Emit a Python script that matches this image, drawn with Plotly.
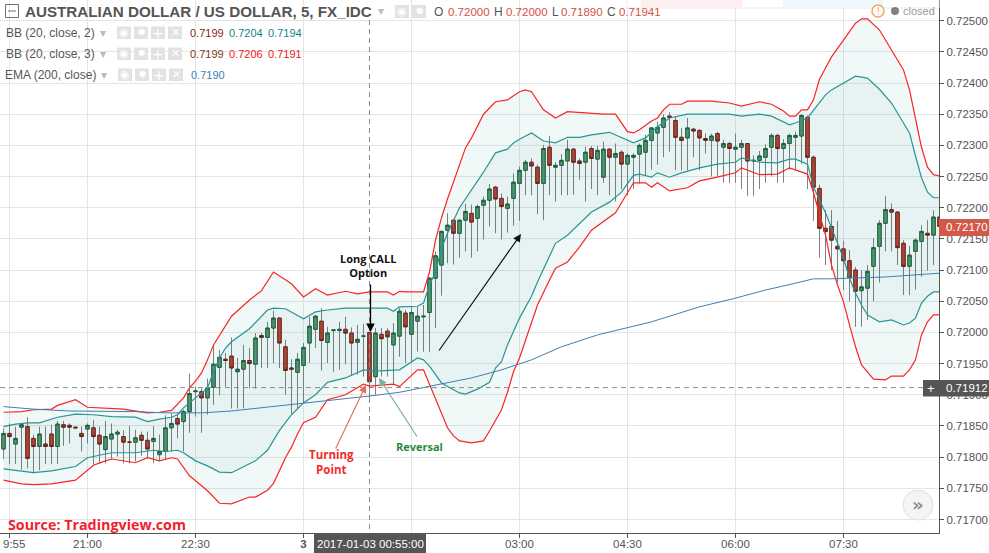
import pandas as pd
import numpy as np
import plotly.graph_objects as go

# Candle data, in units of 0.00001
opens = [71813,71838,71821,71848,71849,71830,71817,71821,71837,71817,
71852,71851,71848,71838,71845,71847,71835,71812,71829,71837,
71833,71824,71824,71835,71827,71825,71804,71809,71847,71862,
71857,71873,71905,71905,71895,71912,71944,71957,71962,71937,
71941,71955,71949,71995,71992,72007,72023,71977,71943,71936,
71947,71983,72005,72018,71984,72003,72003,72005,71999,71984,
71994,72000,71929,71997,72002,71980,71994,72031,71997,72018,
72025,72032,72087,72108,72164,72180,72159,72180,72191,72183,
72204,72212,72233,72215,72199,72215,72239,72260,72273,72265,
72239,72297,72265,72268,72275,72294,72275,72273,72295,72278,
72249,72294,72281,72289,72270,72281,72286,72289,72308,72320,
72329,72347,72340,72313,72312,72326,72324,72311,72308,72319,
72297,72303,72294,72297,72303,72275,72276,72281,72297,72316,
72295,72303,72313,72315,72345,72281,72231,72167,72170,72138,
72134,72115,72100,72067,72071,72106,72138,72175,72197,72193,
72143,72106,72130,72146,72159,72156,72185]
highs = [71846,71854,71849,71854,71864,71836,71849,71849,71852,71858,
71858,71854,71849,71849,71854,71860,71849,71858,71854,71844,
71843,71850,71844,71841,71841,71850,71836,71867,71870,71870,
71876,71934,71913,71910,71926,71980,71972,71967,71992,71959,
71980,71975,71999,71999,72017,72035,72024,71988,71957,71967,
71983,72025,72028,72039,72009,72005,72017,72025,72008,72012,
72014,72000,72007,72007,72007,72015,72039,72036,72041,72041,
72044,72089,72130,72164,72191,72182,72181,72206,72205,72205,
72218,72238,72235,72223,72218,72255,72266,72277,72279,72269,
72301,72315,72273,72286,72309,72296,72279,72298,72299,72299,
72306,72295,72303,72292,72287,72287,72303,72317,72329,72338,
72350,72353,72346,72328,72344,72328,72326,72319,72319,72322,
72309,72306,72319,72309,72303,72284,72291,72302,72319,72319,
72310,72319,72322,72350,72348,72284,72237,72196,72196,72179,
72147,72132,72105,72100,72108,72151,72180,72219,72207,72194,
72148,72139,72151,72172,72180,72196,72185]
lows = [71797,71789,71789,71780,71782,71774,71779,71789,71789,71789,
71818,71822,71846,71809,71822,71788,71790,71790,71798,71801,
71790,71790,71793,71802,71798,71790,71793,71796,71809,71830,
71809,71839,71865,71839,71868,71884,71899,71913,71878,71878,
71878,71910,71910,71943,71943,71951,71943,71900,71870,71878,
71886,71951,71975,71939,71951,71937,71940,71949,71930,71932,
71929,71890,71900,71929,71929,71918,71961,71951,71953,71969,
71969,71969,72007,72059,72111,72109,72120,72130,72120,72130,
72149,72170,72159,72149,72160,72171,72179,72220,72220,72190,
72180,72220,72210,72220,72220,72221,72245,72210,72230,72220,
72240,72220,72210,72230,72220,72230,72239,72252,72261,72269,
72281,72290,72260,72260,72260,72281,72260,72287,72250,72250,
72240,72240,72240,72230,72219,72219,72230,72240,72250,72240,
72240,72261,72261,72270,72230,72179,72120,72108,72100,72080,
72068,72050,72009,72009,72020,72050,72080,72130,72130,72108,
72060,72060,72069,72089,72099,72108,72165]
closes = [71838,71833,71830,71852,71798,71817,71837,71817,71817,71853,
71848,71848,71847,71833,71851,71833,71821,71833,71837,71840,
71824,71824,71831,71827,71813,71830,71809,71847,71854,71853,
71873,71902,71906,71895,71911,71949,71960,71955,71943,71941,
71955,71950,71991,71992,72007,72023,71983,71939,71941,71957,
71976,72010,72026,71987,71999,72004,72005,71999,71983,71989,
71994,71921,71999,71990,71993,71999,72034,72009,72032,72026,
72026,72087,72123,72162,72172,72159,72180,72194,72177,72202,
72212,72230,72214,72202,72206,72241,72260,72273,72267,72239,
72295,72268,72268,72276,72294,72273,72271,72289,72279,72292,
72294,72281,72287,72270,72284,72284,72300,72308,72328,72329,
72344,72345,72313,72308,72328,72323,72312,72308,72315,72307,
72303,72295,72297,72303,72275,72276,72283,72295,72316,72295,
72303,72316,72316,72348,72281,72233,72167,72162,72148,72134,
72115,72088,72066,72073,72098,72136,72175,72197,72193,72136,
72106,72124,72148,72162,72156,72185,72170]

# Band and EMA values: bar number, then price in units of 0.00001
bb3_upper_bar = [0,3,5,8,9,12,14,17,20,24,26,28,29,30,31,32,33,34,35,38,41,43,45,48,50,52,54,57,59,61,64,65,66,67,69,70,71,72,73,74,77,78,80,82,84,85,86,87,88,90,92,94,97,100,102,103,104,105,106,108,109,110,111,113,114,118,121,123,126,128,130,131,132,133,134,135,136,137,138,140,142,143,144,146,148,150,151,152,153,154,155,156]
bb3_upper = [71872,71873,71876,71877,71883,71892,71880,71879,71877,71871,71872,71875,71885,71895,71911,71922,71935,71956,71980,72026,72052,72067,72097,72078,72057,72070,72060,72066,72062,72065,72065,72060,72066,72065,72065,72065,72097,72148,72184,72214,72296,72312,72350,72370,72373,72379,72386,72389,72386,72357,72344,72354,72352,72350,72350,72337,72322,72320,72325,72339,72344,72357,72366,72366,72371,72371,72368,72363,72370,72366,72355,72347,72347,72357,72357,72373,72406,72424,72442,72469,72496,72503,72503,72485,72453,72421,72389,72341,72297,72265,72253,72251]
bb2_upper_bar = [0,2,4,6,9,12,15,18,22,24,26,28,29,30,31,32,34,35,36,37,38,41,43,44,45,47,50,52,54,57,61,64,65,66,69,70,71,72,73,74,76,77,80,82,84,85,86,88,90,92,94,96,98,101,103,105,107,109,111,114,121,123,126,128,131,132,134,135,136,137,138,142,144,146,148,150,151,152,153,154,155,156]
bb2_upper = [71849,71853,71855,71855,71864,71869,71868,71865,71864,71857,71861,71864,71868,71879,71887,71895,71911,71937,71959,71975,71985,72006,72025,72036,72039,72038,72022,72033,72036,72039,72039,72039,72034,72041,72042,72047,72076,72097,72135,72159,72200,72214,72257,72288,72294,72304,72310,72320,72307,72304,72313,72313,72317,72321,72313,72304,72312,72330,72344,72350,72350,72347,72350,72347,72333,72336,72344,72357,72370,72381,72389,72411,72408,72390,72368,72337,72320,72283,72248,72225,72216,72216]
bb2_lower_bar = [0,3,5,8,12,14,16,18,22,25,27,29,30,32,34,36,38,40,42,44,46,48,50,52,54,57,60,62,66,69,70,71,73,75,76,77,79,81,82,83,84,86,88,89,91,92,94,96,98,101,103,105,106,108,109,111,113,116,119,122,123,126,129,131,132,134,135,137,138,140,141,142,143,144,146,148,150,151,152,153,154,155,156]
bb2_lower = [71781,71778,71775,71778,71785,71799,71803,71807,71807,71811,71809,71811,71807,71794,71786,71776,71775,71784,71794,71811,71843,71868,71887,71900,71920,71927,71940,71938,71940,71959,71956,71946,71919,71908,71903,71901,71909,71920,71943,71953,71980,72023,72058,72081,72124,72143,72156,72174,72193,72209,72225,72252,72254,72249,72256,72249,72256,72264,72270,72273,72280,72273,72272,72278,72278,72270,72233,72192,72168,72119,72087,72063,72044,72028,72017,72020,72012,72015,72023,72047,72058,72065,72065]
bb3_lower_bar = [0,3,5,8,12,15,17,18,22,24,26,28,29,31,32,34,36,38,41,42,44,45,47,48,49,50,52,54,57,60,61,64,65,66,69,70,71,72,74,75,76,78,80,81,82,83,84,85,86,87,88,89,91,92,94,96,98,102,103,105,107,108,109,111,114,116,119,122,123,126,129,131,134,135,137,138,139,140,141,142,143,145,147,148,150,151,152,153,154,155,156]
bb3_lower = [71763,71757,71756,71757,71763,71787,71794,71797,71791,71799,71794,71799,71797,71770,71762,71746,71726,71725,71736,71736,71747,71758,71799,71816,71837,71855,71864,71892,71900,71917,71914,71916,71917,71913,71940,71940,71916,71892,71847,71834,71826,71823,71826,71842,71860,71876,71904,71937,71959,71988,72017,72044,72084,72103,72113,72137,72164,72192,72208,72240,72240,72233,72240,72227,72232,72243,72249,72256,72264,72253,72254,72264,72254,72224,72156,72108,72076,72049,72012,71977,71948,71925,71924,71930,71930,71940,71956,71996,72017,72028,72028]
ema_bar = [0,5,11,16,22,27,33,38,44,50,54,61,66,72,78,83,88,93,99,108,116,122,127,132,135,138,147,156]
ema200 = [71881,71877,71874,71874,71873,71871,71871,71874,71880,71887,71890,71898,71904,71916,71927,71940,71956,71977,71996,72017,72041,72055,72068,72079,72086,72086,72089,72095]

y_ticks = [0.717, 0.7175, 0.718, 0.7185, 0.719, 0.7195, 0.72, 0.7205, 0.721, 0.7215, 0.722, 0.7225, 0.723, 0.7235, 0.724, 0.7245, 0.725]
x_tick_times = ["2017-01-02 19:55","2017-01-02 21:00","2017-01-02 22:30","2017-01-03 00:00","2017-01-03 01:30","2017-01-03 03:00","2017-01-03 04:30","2017-01-03 06:00","2017-01-03 07:30"]
x_tick_text = ["","21:00","22:30","<b>3</b>","01:30","03:00","04:30","06:00","07:30"]

times = pd.date_range("2017-01-02 19:50", periods=len(opens), freq="5min")
W, H, R, B = 989, 553, 50, 20
PW, PH = W - R, H - B
FONT = "Liberation Sans"
GREY = "#555555"
px = lambda x: x / PW
py = lambda y: 1 - y / PH
scale = lambda a: np.array(a) * 1e-5
o, h, l, c = map(scale, (opens, highs, lows, closes))

fig = go.Figure()
def band(bars, vals, color, width=1.2, fill=None, fillcolor=None, name=""):
    fig.add_trace(go.Scatter(x=times[bars], y=scale(vals), mode="lines", name=name,
        line=dict(color=color, width=width), fill=fill, fillcolor=fillcolor, hoverinfo="skip"))

# Outer band, inner band, EMA
band(bb3_upper_bar, bb3_upper, "#f92424", name="BB3 upper")
band(bb3_lower_bar, bb3_lower, "#f92424", fill="tonexty", fillcolor="rgba(0,128,128,0.055)", name="BB3 lower")
band(bb2_upper_bar, bb2_upper, "#2a9494", name="BB2 upper")
band(bb2_lower_bar, bb2_lower, "#2a9494", fill="tonexty", fillcolor="rgba(0,128,128,0.04)", name="BB2 lower")
band(ema_bar, ema200, "#3f7fb2", width=1, name="EMA 200")

# Wicks, then bodies with darker outlines
fig.add_trace(go.Candlestick(x=times, open=o, high=h, low=l, close=c, whiskerwidth=0,
    increasing=dict(line=dict(color="#808080", width=1), fillcolor="rgba(0,0,0,0)"),
    decreasing=dict(line=dict(color="#808080", width=1), fillcolor="rgba(0,0,0,0)"), hoverinfo="skip"))
fig.add_trace(go.Candlestick(x=times, open=o, close=c, high=np.maximum(o, c), low=np.minimum(o, c), whiskerwidth=0,
    increasing=dict(line=dict(color="#1e5c38", width=1), fillcolor="#589a70"),
    decreasing=dict(line=dict(color="#6e1c14", width=1), fillcolor="#c83f2d"), hoverinfo="skip"))

shapes, anns = [], []
def rect(x0, y0, x1, y1, fill, line=None, layer="above", kind="rect", w=1):
    shapes.append(dict(type=kind, xref="paper", yref="paper", x0=px(x0), x1=px(x1), y0=py(y0), y1=py(y1),
        fillcolor=fill, line=dict(color=line or fill, width=w if line else 0), layer=layer))
def seg(x0, y0, x1, y1, color, w=1, dash="solid", layer="above"):
    shapes.append(dict(type="line", xref="paper", yref="paper", x0=px(x0), x1=px(x1), y0=py(y0), y1=py(y1),
        line=dict(color=color, width=w, dash=dash), layer=layer))
def text(x, y, s, size=11, color=GREY, anchor="left", family=FONT):
    anns.append(dict(xref="paper", yref="paper", x=px(x), y=py(y), text=s, showarrow=False, xanchor=anchor, yanchor="middle",
        font=dict(family=family, size=size, color=color), borderpad=0, borderwidth=0))
def arrow(x0, y0, x1, y1, color, w=1.2):
    anns.append(dict(xref="paper", yref="paper", x=px(x1), y=py(y1), ax=x0 - x1, ay=y0 - y1, axref="pixel", ayref="pixel",
        text="", showarrow=True, arrowhead=2, arrowsize=1.3, arrowwidth=w, arrowcolor=color, standoff=0))

# Top band without grid, and the clipped card at the top edge
rect(0, 0, PW, 19.8, "#ffffff", layer="between")
rect(627, -2, PW, 8, "#ffffff", line="#e8e8e8")
rect(641, -2, 742, 7.5, "#fdeef0")
rect(783, -2, 883, 7.5, "#eef7fb")

# Crosshair
seg(0, 387.6, 923, 387.6, "#8a8a8a", 1, "5px,4px")
seg(369.5, 20, 369.5, PH, "#8a8a8a", 1, "5px,4px")

# Header
rect(5.5, 4.5, 18.5, 17.5, "rgba(0,0,0,0)", line="#707070")
seg(8, 11, 16, 11, "#707070")
text(25, 11, "<b>AUSTRALIAN DOLLAR / US DOLLAR, 5, FX_IDC</b>", 15.2)
text(381, 11, "▾", 12, "#bbbbbb", "center", "DejaVu Sans")
for x0, g in [(395, "◉"), (412, "✹")]:
    rect(x0, 5, x0 + 14, 18, "#e2e2e2")
    text(x0 + 7, 11.5, g, 11, "#ffffff", "center", "DejaVu Sans")
RED = "#d4513f"
for x, s, col in [(434, "O", GREY), (448, "0.72000", RED), (494, "H", GREY), (506, "0.72000", RED), (552, "L", GREY),
                  (561, "0.71890", RED), (607, "C", GREY), (619, "0.71941", RED)]:
    text(x, 12, s, 11.5 if col == RED else 12, col)
# Status marks
rect(872, 5, 884, 17, "#ffffff", line="#f0a860", kind="circle", w=1.5)
text(878, 11, "!", 10, "#f0a860", "center")
rect(891, 7, 899, 15, "#808080", kind="circle")
text(903, 11, "closed", 11, "#999999")

# Indicator rows
rows = [(33, 6, "BB (20, close, 2)", 117, [(190, "0.7199", "#8b2525"), (229, "0.7204", "#128484"), (268, "0.7194", "#128484")]),
        (54, 6, "BB (20, close, 3)", 117, [(190, "0.7199", "#7e3a20"), (229, "0.7206", "#f01616"), (268, "0.7191", "#f01616")]),
        (75, 5, "EMA (200, close)", 118, [(191, "0.7190", "#3f7fb2")])]
for y, x, name, sq, vals in rows:
    text(x, y, name, 12)
    text(sq - 14, y, "▾", 12, "#bbbbbb", "center", "DejaVu Sans")
    for i, g in enumerate(["◉", "✹", "+", "✕"]):
        rect(sq + 17 * i, y - 6.5, sq + 17 * i + 14, y + 6, "#e2e2e2")
        text(sq + 17 * i + 7, y, g, 11 if i != 2 else 14, "#ffffff", "center", "DejaVu Sans")
    for vx, s, col in vals:
        text(vx, y, s, 11, col)

# Price and time flags
rect(PW, 219, W, 236, "#d2594a")
text(946, 227.5, "0.72170", 11.5, "#ffffff")
rect(923, 380, PW, 396.5, "#555555")
rect(PW, 380, W, 396.5, "#555555")
text(931, 388, "+", 13, "#ffffff", "center")
text(946, 388, "0.71912", 11.5, "#ffffff")
text(13.5, 544, "9:55", 11.5, GREY, "center")
rect(314, 534, 426, H, "#555555")
text(370, 543.5, "2017-01-03 00:55:00", 11.5, "#ffffff", "center")

# Commentary
BOLD = "Open Sans"
text(368, 265, "<b>Long CALL<br>Option</b>", 11, "#111111", "center", BOLD)
arrow(370.5, 283, 370.5, 332, "#000000", 1.3)
arrow(438, 352, 521, 234, "#111111", 1.2)
arrow(335, 450, 366, 385, "#e8705f", 1.2)
arrow(418, 438, 379, 378, "#7fb09a", 1.2)
text(331, 462, "<b>Turning<br>Point</b>", 11.5, "#f52a2a", "center", BOLD)
text(419, 446, "<b>Reversal</b>", 11, "#2a8a3a", "center", BOLD)
text(8, 524, "<b>Source: Tradingview.com</b>", 14.3, "#f01f2d", "left", BOLD)

# Scroll button
rect(903, 490, 933, 520, "#f4f4f4", line="#e0e0e0", kind="circle")
text(918, 504, "<b>»</b>", 18, "#8a8a8a", "center", "DejaVu Sans")

fig.update_layout(width=W, height=H, autosize=False, showlegend=False, hovermode=False, boxgap=0.18,
    margin=dict(l=0, r=R, t=0, b=B, pad=0), paper_bgcolor="#ffffff", plot_bgcolor="#ffffff",
    font=dict(family=FONT, size=11, color=GREY), shapes=shapes, annotations=anns,
    xaxis=dict(type="date", range=["2017-01-02 19:47:05", "2017-01-03 08:49:35"], rangeslider=dict(visible=False),
        tickmode="array", tickvals=x_tick_times, ticktext=x_tick_text, ticks="outside", ticklen=4, tickcolor=GREY,
        ticklabelstandoff=-4,
        showgrid=True, gridcolor="#e4e6e6", gridwidth=1.3, showline=True, linecolor=GREY, linewidth=1.3,
        tickfont=dict(size=11.5, color=GREY), tickangle=0, zeroline=False, automargin=False),
    yaxis=dict(side="right", range=[0.716783, 0.725332], tickmode="array", tickvals=y_ticks, tickformat=".5f",
        ticks="outside", ticklen=4, tickcolor=GREY, showgrid=True, gridcolor="#e4e6e6", gridwidth=1.3,
        showline=True, linecolor=GREY, linewidth=1.3, tickfont=dict(size=11.5, color=GREY), zeroline=False, automargin=False))

fig.write_html("out.html", config=dict(displayModeBar=False),
    post_script="document.body.style.margin='0';")
